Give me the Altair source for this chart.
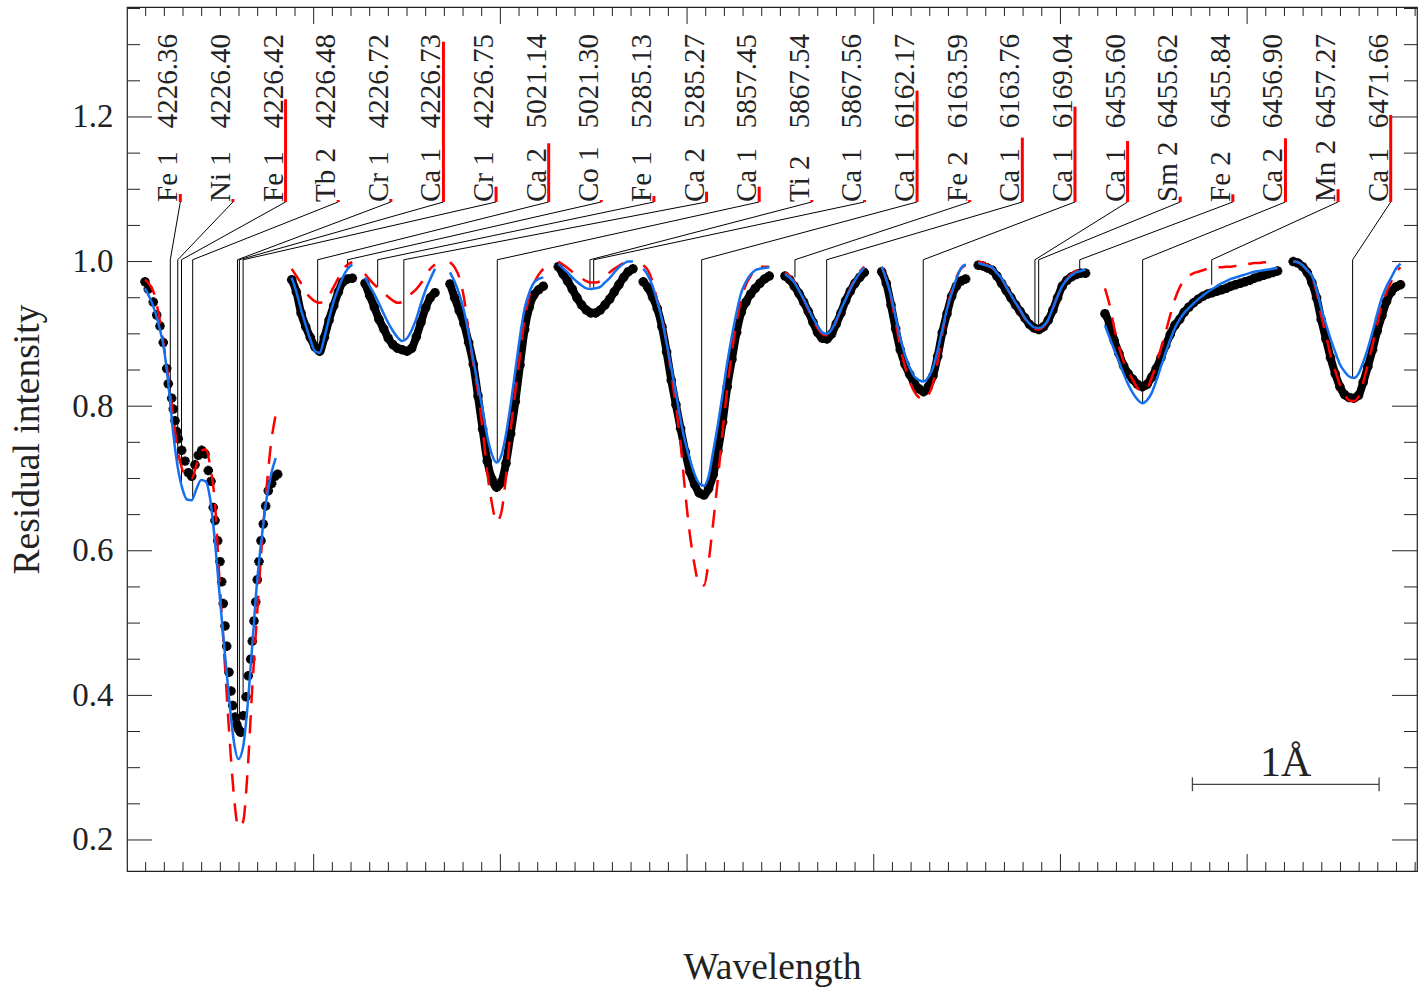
import altair as alt
import pandas as pd

# ------------------------------------------------------------------ data
STEP = 0.025  # spectra are tabulated every 0.025 A along the (pseudo) wavelength axis

# start of every spectral window on the axis (A from the left edge)
SEG_X0 = [0.0964, 0.8822, 1.2748, 1.7300, 2.3101, 2.7654, 3.5244, 4.0423, 4.5597, 5.2383, 6.2469]
# laboratory wavelength that sits at axis position 0 for each window
SEG_LAMBDA0 = [4226.1281, 5020.1186, 5283.7872, 5855.4666, 5865.0601, 6159.0918,
               6160.0121, 6164.7749, 6450.7366, 6451.4597, 6465.0949]

# observed spectrum of window 1 (individual points)
OBS1_X = [0.0964, 0.1141, 0.1409, 0.1591, 0.1768, 0.1944, 0.2126, 0.2212, 0.2394, 0.2480,
          0.2571, 0.2662, 0.2748, 0.2930, 0.3107, 0.3283, 0.3465, 0.3642, 0.3819, 0.4001,
          0.4178, 0.4355, 0.4499, 0.4622, 0.4713, 0.4858, 0.4981, 0.5072, 0.5158, 0.5249,
          0.5340, 0.5463, 0.5570, 0.5661, 0.5785, 0.5876, 0.5961, 0.6052, 0.6106, 0.6229,
          0.6374, 0.6497, 0.6626, 0.6711, 0.6802, 0.6893, 0.6979, 0.7070, 0.7177, 0.7300,
          0.7429, 0.7568, 0.7750, 0.7927, 0.8072]
OBS1_Y = [0.972, 0.962, 0.944, 0.926, 0.911, 0.888, 0.852, 0.831, 0.811, 0.796,
          0.780, 0.765, 0.755, 0.739, 0.724, 0.708, 0.703, 0.719, 0.732, 0.739,
          0.734, 0.711, 0.696, 0.660, 0.642, 0.614, 0.585, 0.557, 0.527, 0.496,
          0.468, 0.432, 0.406, 0.386, 0.370, 0.360, 0.354, 0.350, 0.349, 0.372,
          0.398, 0.427, 0.450, 0.475, 0.503, 0.529, 0.560, 0.585, 0.614, 0.637,
          0.662, 0.683, 0.693, 0.703, 0.706]

# observed spectrum, windows 2-11
OBS = [
    [],
    [0.975, 0.958, 0.929, 0.910, 0.895, 0.882, 0.876, 0.895, 0.919, 0.939, 0.958, 0.972, 0.976, 0.977],
    [0.970, 0.953, 0.937, 0.920, 0.907, 0.894, 0.885, 0.880, 0.878, 0.876, 0.880, 0.896, 0.916, 0.936, 0.950, 0.957],
    [0.969, 0.950, 0.932, 0.914, 0.888, 0.858, 0.814, 0.768, 0.724, 0.699, 0.688, 0.695, 0.721, 0.762, 0.806,
     0.857, 0.906, 0.937, 0.954, 0.961, 0.966],
    [0.993, 0.983, 0.973, 0.962, 0.950, 0.940, 0.933, 0.929, 0.929, 0.933, 0.940, 0.948, 0.958, 0.968, 0.978,
     0.986, 0.990],
    [0.972, 0.964, 0.951, 0.935, 0.910, 0.875, 0.836, 0.802, 0.769, 0.737, 0.709, 0.692, 0.680, 0.677, 0.686,
     0.705, 0.738, 0.778, 0.827, 0.865, 0.902, 0.930, 0.944, 0.955, 0.963, 0.970, 0.976, 0.980],
    [0.980, 0.975, 0.966, 0.956, 0.944, 0.931, 0.916, 0.902, 0.894, 0.893, 0.900, 0.914, 0.929, 0.946, 0.959,
     0.970, 0.978, 0.985],
    [0.986, 0.970, 0.940, 0.907, 0.878, 0.858, 0.844, 0.832, 0.824, 0.820, 0.827, 0.842, 0.869, 0.902, 0.928,
     0.952, 0.966, 0.973, 0.976],
    [0.995, 0.994, 0.991, 0.988, 0.980, 0.970, 0.960, 0.950, 0.940, 0.931, 0.922, 0.913, 0.908, 0.906, 0.910,
     0.919, 0.933, 0.950, 0.966, 0.974, 0.979, 0.982, 0.984, 0.984],
    [0.928, 0.914, 0.891, 0.873, 0.856, 0.845, 0.837, 0.830, 0.827, 0.830, 0.840, 0.852, 0.867, 0.884, 0.899,
     0.912, 0.920, 0.930, 0.937, 0.943, 0.948, 0.952, 0.955, 0.957, 0.959, 0.961, 0.963, 0.966, 0.968, 0.970,
     0.972, 0.974, 0.977, 0.979, 0.981, 0.983, 0.985, 0.987],
    [1.000, 0.998, 0.993, 0.985, 0.971, 0.950, 0.920, 0.893, 0.867, 0.845, 0.827, 0.816, 0.812, 0.811, 0.815,
     0.833, 0.855, 0.878, 0.904, 0.925, 0.945, 0.958, 0.965, 0.968],
]

# synthetic spectrum, red dashed model
RED = [
    [0.975, 0.968, 0.955, 0.925, 0.885, 0.840, 0.788, 0.740, 0.712, 0.700, 0.700, 0.718, 0.738, 0.740, 0.716,
     0.665, 0.555, 0.455, 0.352, 0.265, 0.218, 0.225, 0.297, 0.412, 0.510, 0.606, 0.683, 0.748, 0.788],
    [0.990, 0.980, 0.970, 0.958, 0.950, 0.945, 0.943, 0.946, 0.953, 0.965, 0.977, 0.989, 0.996, 0.999],
    [0.983, 0.975, 0.968, 0.962, 0.957, 0.951, 0.946, 0.943, 0.944, 0.950, 0.956, 0.962, 0.970, 0.980, 0.990, 0.996],
    [0.999, 0.992, 0.978, 0.950, 0.902, 0.858, 0.819, 0.768, 0.708, 0.665, 0.640, 0.653, 0.702, 0.767, 0.820,
     0.870, 0.920, 0.952, 0.970, 0.982, 0.990],
    [1.000, 0.996, 0.991, 0.986, 0.982, 0.977, 0.973, 0.971, 0.971, 0.973, 0.979, 0.985, 0.990, 0.994, 0.998,
     1.000, 1.000],
    [0.995, 0.988, 0.972, 0.946, 0.922, 0.888, 0.845, 0.800, 0.748, 0.680, 0.622, 0.580, 0.553, 0.552, 0.585,
     0.640, 0.700, 0.765, 0.825, 0.875, 0.916, 0.948, 0.968, 0.980, 0.989, 0.993, 0.993, 0.993],
    [0.985, 0.980, 0.972, 0.961, 0.948, 0.934, 0.920, 0.908, 0.900, 0.898, 0.904, 0.917, 0.933, 0.948, 0.963,
     0.976, 0.986, 0.993],
    [0.993, 0.976, 0.950, 0.916, 0.882, 0.855, 0.835, 0.820, 0.812, 0.809, 0.815, 0.832, 0.862, 0.900, 0.935,
     0.960, 0.978, 0.990, 0.995],
    [1.000, 0.998, 0.995, 0.991, 0.984, 0.976, 0.965, 0.954, 0.943, 0.932, 0.921, 0.912, 0.907, 0.906, 0.910,
     0.919, 0.935, 0.952, 0.966, 0.976, 0.983, 0.987, 0.990, 0.992],
    [0.963, 0.940, 0.908, 0.882, 0.862, 0.848, 0.836, 0.825, 0.820, 0.824, 0.839, 0.858, 0.880, 0.902, 0.926,
     0.948, 0.964, 0.974, 0.980, 0.984, 0.986, 0.988, 0.990, 0.991, 0.992, 0.992, 0.993, 0.993, 0.994, 0.995,
     0.996, 0.997, 0.998, 0.998, 0.999, 0.999, 0.999, 0.999],
    [1.000, 0.999, 0.995, 0.988, 0.978, 0.958, 0.925, 0.900, 0.870, 0.849, 0.830, 0.816, 0.808, 0.807, 0.813,
     0.833, 0.858, 0.885, 0.914, 0.940, 0.958, 0.972, 0.985, 0.992],
]

# synthetic spectrum, blue solid model
BLUE = [
    [0.963, 0.950, 0.934, 0.911, 0.882, 0.831, 0.765, 0.716, 0.686, 0.671, 0.670, 0.685, 0.698, 0.696, 0.670,
     0.612, 0.538, 0.466, 0.397, 0.338, 0.312, 0.328, 0.387, 0.471, 0.556, 0.618, 0.670, 0.705, 0.728],
    [0.978, 0.958, 0.934, 0.912, 0.892, 0.876, 0.874, 0.895, 0.921, 0.945, 0.963, 0.979, 0.990, 0.996],
    [0.978, 0.966, 0.955, 0.942, 0.928, 0.915, 0.904, 0.895, 0.890, 0.894, 0.905, 0.921, 0.942, 0.961, 0.976, 0.990],
    [0.985, 0.972, 0.955, 0.932, 0.900, 0.864, 0.829, 0.795, 0.758, 0.733, 0.722, 0.732, 0.761, 0.802, 0.849,
     0.896, 0.935, 0.957, 0.971, 0.976, 0.978],
    [0.997, 0.991, 0.985, 0.978, 0.972, 0.967, 0.963, 0.962, 0.963, 0.965, 0.971, 0.977, 0.985, 0.992, 0.997,
     1.000, 1.000],
    [0.990, 0.981, 0.966, 0.945, 0.920, 0.887, 0.853, 0.818, 0.781, 0.750, 0.726, 0.706, 0.693, 0.690, 0.703,
     0.738, 0.775, 0.817, 0.860, 0.897, 0.930, 0.957, 0.972, 0.982, 0.988, 0.990, 0.991, 0.992],
    [0.983, 0.978, 0.971, 0.960, 0.948, 0.935, 0.922, 0.911, 0.902, 0.900, 0.906, 0.919, 0.934, 0.948, 0.962,
     0.974, 0.984, 0.992],
    [0.993, 0.975, 0.953, 0.923, 0.894, 0.871, 0.853, 0.841, 0.836, 0.834, 0.840, 0.853, 0.877, 0.906, 0.934,
     0.956, 0.976, 0.991, 0.996],
    [0.998, 0.996, 0.994, 0.992, 0.984, 0.977, 0.965, 0.954, 0.943, 0.933, 0.922, 0.914, 0.909, 0.908, 0.911,
     0.920, 0.936, 0.952, 0.966, 0.975, 0.981, 0.985, 0.987, 0.989],
    [0.912, 0.895, 0.878, 0.862, 0.845, 0.830, 0.818, 0.809, 0.804, 0.808, 0.818, 0.835, 0.855, 0.874, 0.892,
     0.908, 0.920, 0.929, 0.936, 0.942, 0.948, 0.953, 0.958, 0.962, 0.966, 0.970, 0.973, 0.976, 0.978, 0.980,
     0.982, 0.984, 0.986, 0.987, 0.988, 0.989, 0.990, 0.991],
    [1.000, 0.999, 0.995, 0.988, 0.980, 0.962, 0.935, 0.914, 0.893, 0.875, 0.858, 0.848, 0.841, 0.839, 0.845,
     0.861, 0.880, 0.903, 0.928, 0.950, 0.966, 0.978, 0.990, 0.997],
]

# line identifications
ELEMENTS = ["Fe 1", "Ni 1", "Fe 1", "Tb 2", "Cr 1", "Ca 1", "Cr 1", "Ca 2", "Co 1", "Fe 1", "Ca 2", "Ca 1",
            "Ti 2", "Ca 1", "Ca 1", "Fe 2", "Ca 1", "Ca 1", "Ca 1", "Sm 2", "Fe 2", "Ca 2", "Mn 2", "Ca 1"]
WAVELENGTHS = [4226.36, 4226.40, 4226.42, 4226.48, 4226.72, 4226.73, 4226.75, 5021.14, 5021.30, 5285.13,
               5285.27, 5857.45, 5867.54, 5867.56, 6162.17, 6163.59, 6163.76, 6169.04, 6455.60, 6455.62,
               6455.84, 6456.90, 6457.27, 6471.66]
LINE_SEG = [0, 0, 0, 0, 0, 0, 0, 1, 1, 2, 2, 3, 4, 4, 5, 6, 6, 7, 8, 8, 8, 9, 9, 10]
LINE_DEPTH = [0.800, 0.720, 0.686, 0.672, 0.362, 0.362, 0.403, 0.873, 0.990, 0.965, 0.892, 0.723,
              0.964, 0.964, 0.689, 0.978, 0.900, 0.834, 0.908, 0.908, 0.988, 0.804, 0.968, 0.838]
LINE_STRENGTH = [1.0935, 1.0866, 1.2245, 1.0852, 1.0866, 1.3041, 1.1036, 1.1636, 1.0852, 1.0907,
                 1.0967, 1.1036, 1.0852, 1.0852, 1.2364, 1.0852, 1.1714, 1.2143, 1.1668, 1.0898,
                 1.0931, 1.1705, 1.1001, 1.2028]

Y_MAJOR = [0.2, 0.4, 0.6, 0.8, 1.0, 1.2]
SCALE_BAR = {"x": 5.707, "length": 1.0, "y": 0.277, "label": "1Å"}

# ------------------------------------------------------------------ layout constants
X_DOMAIN = [0.0, 6.91]
Y_DOMAIN = [0.1571, 1.3521]
W, H = 1290, 864
SLOT0, SLOT_STEP = 0.2855, 0.2819
LABEL_BASE, ELBOW, WL_BASE = 1.0824, 1.0025, 1.1844
FONT = "Liberation Serif"
TXT = "#222222"
BLUE_C = "#1570ef"
RED_C = "#ff0000"
AST = "M-1,0L1,0M0,-1L0,1M-0.7,-0.7L0.7,0.7M-0.7,0.7L0.7,-0.7"

# ------------------------------------------------------------------ tables
def seg_frame(arrays):
    rows = []
    for s, x0 in enumerate(SEG_X0):
        for k, v in enumerate(arrays[s]):
            rows.append({"seg": s, "x": x0 + STEP * k, "y": v})
    return pd.DataFrame(rows)

red_df = seg_frame(RED)
blue_df = seg_frame(BLUE)
obs_df = seg_frame(OBS)
obs_pts = pd.concat([obs_df, pd.DataFrame({"seg": 0, "x": OBS1_X, "y": OBS1_Y})], ignore_index=True)

lines_df = pd.DataFrame({
    "slot": [SLOT0 + SLOT_STEP * i for i in range(len(ELEMENTS))],
    "lx": [w - SEG_LAMBDA0[s] for w, s in zip(WAVELENGTHS, LINE_SEG)],
    "depth": LINE_DEPTH,
    "top": LINE_STRENGTH,
    "el": ELEMENTS,
    "wl": [f"{w:.2f}" for w in WAVELENGTHS],
    "base": LABEL_BASE,
    "elbow": ELBOW,
    "wlbase": WL_BASE,
})

xs = alt.Scale(domain=X_DOMAIN, nice=False, zero=False)
ys = alt.Scale(domain=Y_DOMAIN, nice=False, zero=False)

x_axis = alt.Axis(title="Wavelength", labels=False, ticks=False, domain=False, grid=False,
                  titleFont=FONT, titleFontSize=37.5, titleFontWeight="normal", titleColor=TXT,
                  titlePadding=77)
y_axis = alt.Axis(title="Residual intensity", values=Y_MAJOR, format=".1f", ticks=False, tickSize=0,
                  domain=False, grid=False, labelFont=FONT, labelFontSize=33, labelColor=TXT,
                  labelPadding=14, titleFont=FONT, titleFontSize=37.5, titleFontWeight="normal",
                  titleColor=TXT, titlePadding=25)


def X(f):
    return alt.X(f, type="quantitative", scale=xs, axis=x_axis)


def Y(f):
    return alt.Y(f, type="quantitative", scale=ys, axis=y_axis)


# ------------------------------------------------------------------ inward ticks
x_major = [1, 2, 3, 4, 5, 6]
x_minor = [round(i * 0.1, 1) for i in range(1, 70) if i % 10]
y_minor = [round(0.2 + 0.05 * i, 2) for i in range(0, 24) if i % 4]


def xticks(vals, length):
    d = pd.DataFrame({"v": vals})
    bot = alt.Chart(d).mark_rule(color="#222", strokeWidth=1).encode(
        x=X("v"), y=alt.value(H), y2=alt.value(H - length))
    top = alt.Chart(d).mark_rule(color="#222", strokeWidth=1).encode(
        x=X("v"), y=alt.value(0), y2=alt.value(length))
    return [bot, top]


def yticks(vals, length):
    d = pd.DataFrame({"v": vals})
    left = alt.Chart(d).mark_rule(color="#222", strokeWidth=1).encode(
        y=Y("v"), x=alt.value(0), x2=alt.value(length))
    right = alt.Chart(d).mark_rule(color="#222", strokeWidth=1).encode(
        y=Y("v"), x=alt.value(W), x2=alt.value(W - length))
    return [left, right]


ticks = xticks(x_major, 17) + xticks(x_minor, 9) + yticks(Y_MAJOR, 25) + yticks(y_minor, 13)

# ------------------------------------------------------------------ marks
diag = alt.Chart(lines_df).mark_rule(color="black", strokeWidth=1).encode(
    x=X("slot"), y=Y("base"), x2=alt.X2("lx"), y2=alt.Y2("elbow"))
vert = alt.Chart(lines_df).mark_rule(color="black", strokeWidth=1).encode(
    x=X("lx"), y=Y("elbow"), y2=alt.Y2("depth"))
bars = alt.Chart(lines_df).mark_rule(color=RED_C, strokeWidth=3).encode(
    x=X("slot"), y=Y("base"), y2=alt.Y2("top"))

obs_line = alt.Chart(obs_df).mark_line(color="black", strokeWidth=8, interpolate="monotone").encode(
    x=X("x"), y=Y("y"), detail="seg:N")
obs_mark = alt.Chart(obs_pts).mark_point(shape=AST, filled=False, color="black", strokeWidth=3,
                                         size=90, opacity=1).encode(x=X("x"), y=Y("y"))
red_line = alt.Chart(red_df).mark_line(color=RED_C, strokeWidth=2.5, strokeDash=[18, 12],
                                       interpolate="monotone").encode(x=X("x"), y=Y("y"), detail="seg:N")
blue_line = alt.Chart(blue_df).mark_line(color=BLUE_C, strokeWidth=2.5, interpolate="monotone").encode(
    x=X("x"), y=Y("y"), detail="seg:N")

el_text = alt.Chart(lines_df).mark_text(angle=270, align="left", baseline="alphabetic", font=FONT,
                                        fontSize=29, color=TXT, dy=-3).encode(
    x=X("slot"), y=Y("base"), text="el:N")
wl_text = alt.Chart(lines_df).mark_text(angle=270, align="left", baseline="alphabetic", font=FONT,
                                        fontSize=29, color=TXT, dy=-3).encode(
    x=X("slot"), y=Y("wlbase"), text="wl:N")

sb = pd.DataFrame({"x1": [SCALE_BAR["x"]], "x2": [SCALE_BAR["x"] + SCALE_BAR["length"]],
                   "y": [SCALE_BAR["y"]], "ylo": [SCALE_BAR["y"] - 0.0095], "yhi": [SCALE_BAR["y"] + 0.0095],
                   "xm": [SCALE_BAR["x"] + SCALE_BAR["length"] / 2], "yt": [SCALE_BAR["y"] + 0.0115],
                   "t": [SCALE_BAR["label"]]})
sb_line = alt.Chart(sb).mark_rule(color="#444", strokeWidth=1.3).encode(
    x=X("x1"), x2=alt.X2("x2"), y=Y("y"))
sb_cap1 = alt.Chart(sb).mark_rule(color="#444", strokeWidth=1.3).encode(
    x=X("x1"), y=Y("ylo"), y2=alt.Y2("yhi"))
sb_cap2 = alt.Chart(sb).mark_rule(color="#444", strokeWidth=1.3).encode(
    x=X("x2"), y=Y("ylo"), y2=alt.Y2("yhi"))
sb_text = alt.Chart(sb).mark_text(align="center", baseline="alphabetic", font=FONT, fontSize=42,
                                  color=TXT).encode(x=X("xm"), y=Y("yt"), text="t:N")

chart = alt.layer(
    *ticks, diag, vert, bars, obs_line, obs_mark, red_line, blue_line,
    el_text, wl_text, sb_line, sb_cap1, sb_cap2, sb_text,
).properties(
    width=W, height=H, autosize="none",
    padding={"left": 127, "top": 7, "right": 11, "bottom": 121},
    background="white",
).configure_view(stroke="#222", strokeWidth=1.2)

chart.save("out.html", embed_options={"renderer": "svg", "actions": False})
